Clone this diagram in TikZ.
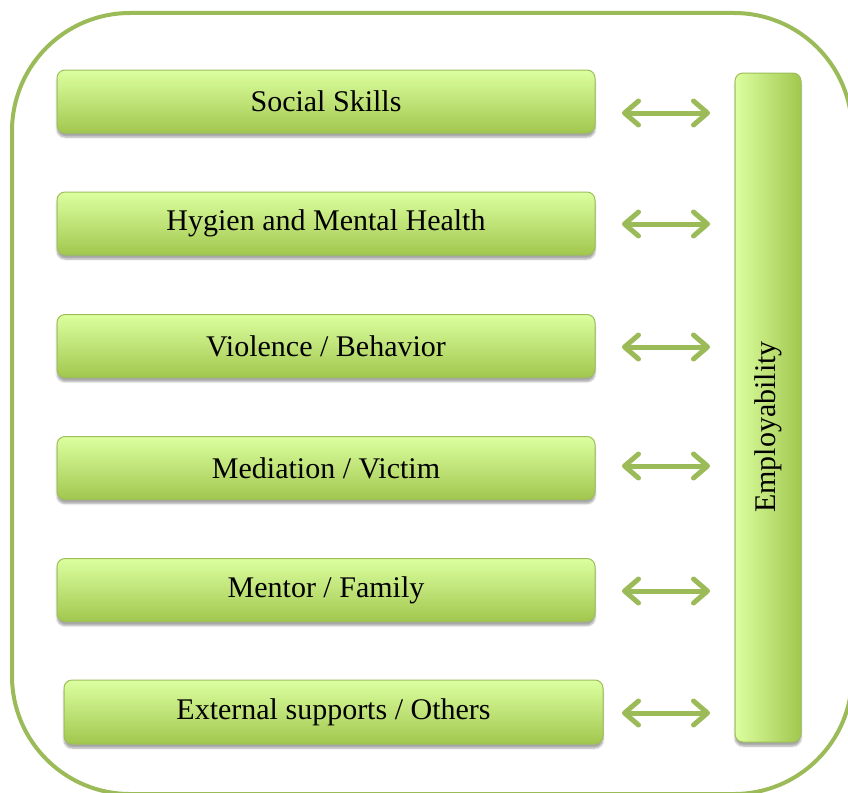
\documentclass[tikz,border=0pt]{standalone}
\usepackage{fontspec}
\setmainfont{Liberation Serif}
\usetikzlibrary{shadows,shadows.blur,arrows.meta}
\definecolor{olive}{HTML}{9BBB59}
\definecolor{boxtop}{HTML}{DCFFA0}
\definecolor{boxbot}{HTML}{A2C74E}
\definecolor{boxline}{HTML}{9DBE5A}
\tikzset{
  frame/.style={draw=olive, line width=4pt, rounded corners=118pt},
  bx/.style={draw=boxline, line width=1pt, rounded corners=8pt,
    top color=boxtop, bottom color=boxbot, inner sep=0pt,
    font=\fontsize{30}{34}\selectfont, text=black,
    blur shadow={shadow xshift=0pt, shadow yshift=-4pt, shadow blur steps=6, shadow opacity=35}},
  bar/.style={draw=boxline, line width=1pt, rounded corners=8pt,
    left color=boxtop, right color=boxbot, inner sep=0pt,
    blur shadow={shadow xshift=0pt, shadow yshift=-4pt, shadow blur steps=6, shadow opacity=35}},
  dbl/.style={draw=olive, line width=5pt,
    {Straight Barb[length=14pt,width=24pt,round]}-{Straight Barb[length=14pt,width=24pt,round]}}
}
\begin{document}
\begin{tikzpicture}[x=1pt,y=-1pt]
\useasboundingbox (0,0) rectangle (848,792);
\clip (0,0) rectangle (848,792);
\draw[frame] (12,13) rectangle (852,794);
\node[bx, minimum width=538, minimum height=63] (n1) at (326,101.5) {Social Skills};
\node[bx, minimum width=538, minimum height=63] (n2) at (326,223.5) {Hygien and Mental Health};
\node[bx, minimum width=538, minimum height=63] (n3) at (326,346) {Violence / Behavior};
\node[bx, minimum width=538, minimum height=63] (n4) at (326,468) {Mediation / Victim};
\node[bx, minimum width=538, minimum height=63] (n5) at (326,590) {Mentor / Family};
\node[bx, minimum width=539, minimum height=64] (n6) at (333.5,712) {External supports / Others};
\node[bar, minimum width=66, minimum height=669] (emp) at (768,407.5) {};
\node[font=\fontsize{30}{34}\selectfont, rotate=90] (empt) at (768,427) {Employability};
\foreach \i/\y in {1/113,2/224,3/347,4/466,5/591,6/713}{
  \coordinate (l\i) at (622,\y);
  \coordinate (r\i) at (710,\y);
  \draw[dbl] (l\i) -- (r\i);
}
\end{tikzpicture}
\end{document}
